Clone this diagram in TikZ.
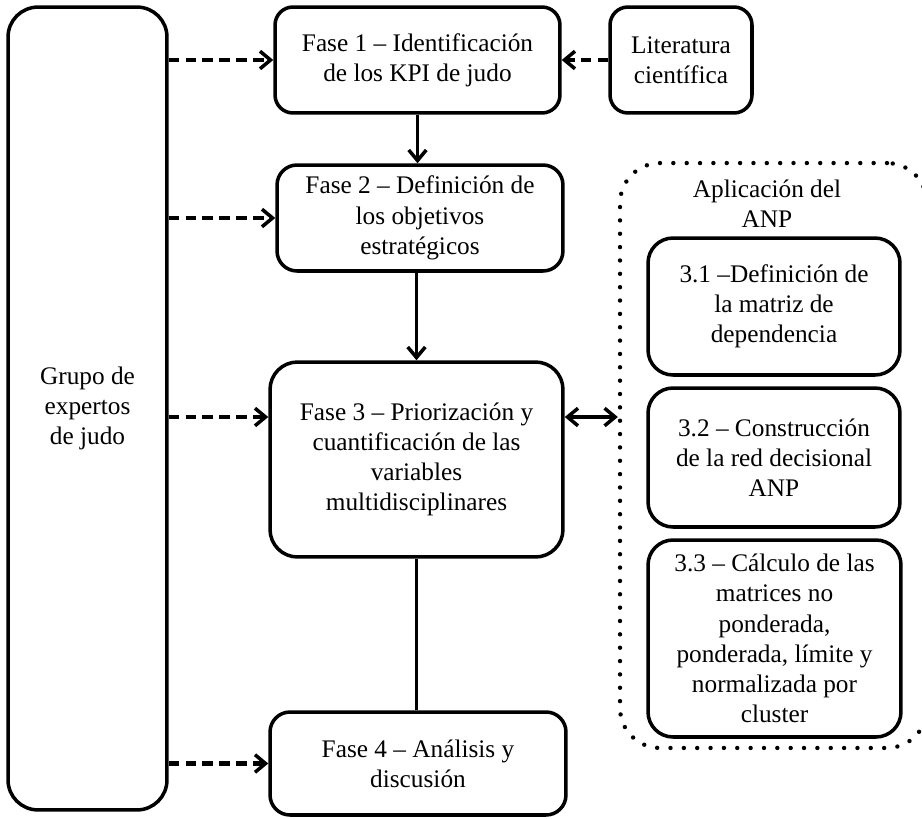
\documentclass[tikz,border=0pt]{standalone}
\usepackage{fontspec}
\setmainfont{Liberation Serif}
\usetikzlibrary{arrows.meta}

\begin{document}
\begin{tikzpicture}[x=0.02cm, y=-0.02cm,
	every node/.style={font=\fontsize{14.4}{17.2}\selectfont, align=center, inner sep=0pt},
	caja/.style={draw, line width=2pt, rounded corners=#1},
	caja/.default=0.4cm,
	punta/.style={line width=2pt, #1{Straight Barb[length=6pt, width=10pt, line width=2pt]}},
	flecha/.style={punta=-},
	flechadoble/.style={line width=2pt, {Straight Barb[length=6pt, width=10pt, line width=2pt]}-{Straight Barb[length=6pt, width=10pt, line width=2pt]}},
	flechapunt/.style={flecha, line width=2.4pt, dash pattern=on 6pt off 3.6pt},
	zona/.style={draw, line width=2.5pt, line cap=round, dash pattern=on 0pt off 7.6pt, rounded corners=0.8cm}]
	\useasboundingbox (0,0) rectangle (922,818);
	% columna de expertos y fases
	\node[caja=0.6cm, minimum width=3.18cm, minimum height=16.06cm] (grupo) at (87.5,408.5) {Grupo de\\expertos\\de judo};
	\node[caja=0.36cm, minimum width=5.7cm, minimum height=2.12cm] (f1) at (417.5,60) {Fase 1 -- Identificación\\de los KPI de judo};
	\node[caja=0.36cm, minimum width=2.84cm, minimum height=2.12cm] (lit) at (681,60) {Literatura\\científica};
	\node[caja=0.4cm, minimum width=5.72cm, minimum height=2.12cm] (f2) at (420,218) {Fase 2 -- Definición de\\los objetivos\\estratégicos};
	\node[caja=0.55cm, minimum width=5.86cm, minimum height=3.9cm] (f3) at (416.5,459.5) {Fase 3 -- Priorización y\\cuantificación de las\\variables\\multidisciplinares};
	\node[caja=0.4cm, minimum width=5.92cm, minimum height=2.06cm] (f4) at (418,763.5) {Fase 4 -- Análisis y\\discusión};
	% aplicacion del ANP
	\node[zona, minimum width=6.14cm, minimum height=11.7cm] (anp) at (773.5,455.5) {};
	\node (titulo) at (767,204) {Aplicación del\\ANP};
	\node[caja=0.5cm, minimum width=5.04cm, minimum height=2.74cm] (b31) at (774,306.5) {3.1 --Definición de\\la matriz de\\dependencia};
	\node[caja=0.5cm, minimum width=5.04cm, minimum height=2.78cm] (b32) at (774,457.5) {3.2 -- Construcción\\de la red decisional\\ANP};
	\node[caja=0.5cm, minimum width=5.06cm, minimum height=3.94cm] (b33) at (774.5,638.5) {3.3 -- Cálculo de las\\matrices no\\ponderada,\\ponderada, límite y\\normalizada por\\cluster};
	\coordinate (f3in) at ([yshift=0.85cm]f3.west);
	\coordinate (f3out) at ([yshift=0.85cm]f3.east);
	% conexiones
	\draw[flechapunt] (grupo.east |- f1.west) -- (f1.west);
	\draw[flechapunt] (lit.west) -- (f1.east);
	\draw[flechapunt] (grupo.east |- f2.west) -- (f2.west);
	\draw[flechapunt] (grupo.east |- f3in) -- (f3in);
	\draw[flechapunt] (grupo.east |- f4.west) -- (f4.west);
	\draw[flecha] (f1.south) -- (f1.south |- f2.north);
	\draw[flecha] (f2.south -| f3.north) -- (f3.north);
	\draw[line width=2pt] (f3.south) -- (f3.south |- f4.north);
	\draw[flechadoble] (f3out) -- (anp.west |- f3out);
\end{tikzpicture}
\end{document}
